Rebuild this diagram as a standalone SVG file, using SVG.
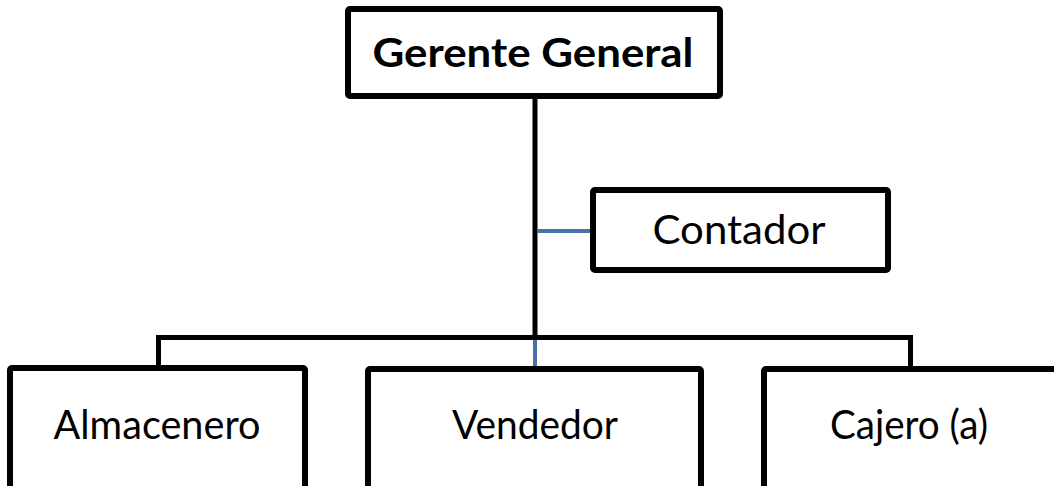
<svg xmlns="http://www.w3.org/2000/svg" width="1054" height="486" viewBox="0 0 1054 486">
  <style>
    .box { fill: #ffffff; stroke: #000000; stroke-width: 6; stroke-linejoin: round; }
    .line { fill: none; stroke: #000000; stroke-width: 5; }
    .blue { fill: none; stroke: #4672A8; stroke-width: 4; }
    .lbl { font-family: "Lato", "Open Sans", "Liberation Sans", sans-serif; font-size: 40px; fill: #000000; text-anchor: middle; }
    .bold { font-weight: bold; }
  </style>
  <rect width="1054" height="486" fill="#ffffff"/>

  <!-- connectors -->
  <g id="connectors">
    <line class="line" x1="535" y1="96" x2="535" y2="340"/>
    <line class="blue" x1="537" y1="231" x2="591" y2="231"/>
    <polyline class="line" points="158.5,366 158.5,337.5 910.5,337.5 910.5,366"/>
    <line class="blue" x1="535" y1="340" x2="535" y2="367"/>
  </g>

  <g id="gerente-general">
    <rect class="box" x="348" y="9" width="372" height="87" rx="2"/>
    <text class="lbl bold" x="533" y="67" textLength="321" lengthAdjust="spacingAndGlyphs">Gerente General</text>
  </g>

  <g id="contador">
    <rect class="box" x="593" y="190" width="295" height="80" rx="2"/>
    <text class="lbl" x="739" y="244" textLength="173" lengthAdjust="spacingAndGlyphs">Contador</text>
  </g>

  <g id="almacenero">
    <rect class="box" x="10" y="368" width="295" height="140" rx="2"/>
    <text class="lbl" x="157" y="439" textLength="207" lengthAdjust="spacingAndGlyphs">Almacenero</text>
  </g>

  <g id="vendedor">
    <rect class="box" x="368" y="369" width="333" height="140" rx="2"/>
    <text class="lbl" x="535" y="439" textLength="166" lengthAdjust="spacingAndGlyphs">Vendedor</text>
  </g>

  <g id="cajero">
    <rect class="box" x="764" y="369" width="320" height="140" rx="2"/>
    <text class="lbl" x="909" y="439" textLength="158" lengthAdjust="spacingAndGlyphs">Cajero (a)</text>
  </g>
</svg>
